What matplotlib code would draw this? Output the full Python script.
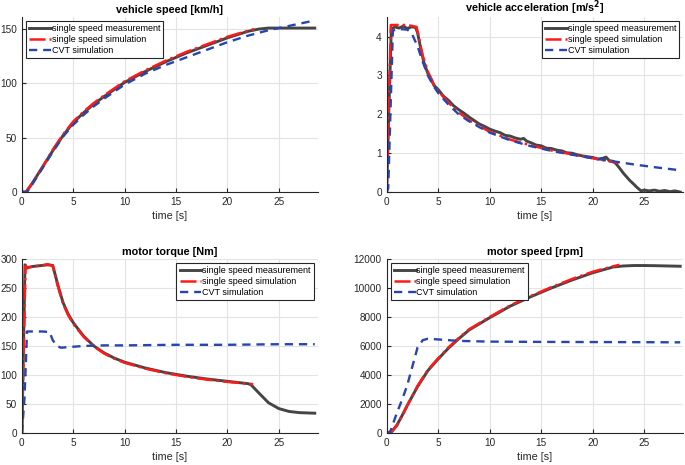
import matplotlib
matplotlib.use('Agg')
import matplotlib.pyplot as plt

plt.rcParams['font.family'] = ['Liberation Sans', 'DejaVu Sans']

# ---- vehicle speed [km/h]
vs_meas_t = [0, 0.4, 1, 2, 3, 4, 5, 6, 7, 8, 10, 12, 14, 16, 18, 20, 22, 23, 24, 25, 26, 28.5]
vs_meas = [0, 0, 8, 23, 38, 52, 64, 73, 81, 88, 101, 111, 120, 128, 135, 142, 148, 150, 151, 151, 151, 151]
vs_sim_t = [0, 0.4, 1, 2, 3, 4, 5, 6, 7, 8, 10, 12, 14, 16, 18, 20, 22, 22.6]
vs_sim = [0, 0, 8, 23, 39, 53, 65, 74, 82, 89, 102, 112, 121, 129, 136, 143, 148.5, 150]
vs_cvt_t = [0, 0.5, 1, 2, 3, 4, 5, 6, 7, 8, 10, 12, 14, 16, 18, 20, 22, 24, 26, 28.5]
vs_cvt = [0, 0, 7, 22, 37, 51, 62, 71, 79, 86, 99, 109, 117, 124, 131, 138, 144, 149, 153, 158]

# ---- vehicle acceleration [m/s^2]
acc_meas_t = [0, 0.2, 0.45, 0.8, 1.2, 1.6, 2.0, 2.4, 2.8, 3.0, 3.3, 3.6, 4.0, 4.3, 4.6, 5.0,
              5.5, 6.0, 6.5, 7.0, 7.5, 8.0, 8.5, 9.0, 9.5, 10.0, 10.5, 11.0, 11.5, 12.0, 12.5,
              13.0, 13.3, 13.6, 14.0, 14.5, 15.0, 15.5, 16.0, 16.5, 17.0, 17.5, 18.0, 18.5,
              19.0, 19.5, 20.0, 20.5, 21.0, 21.3, 21.6, 22.0, 22.3, 22.6, 23.0, 23.3, 23.6,
              24.0, 24.3, 24.7, 25.0, 25.5, 26.0, 26.5, 27.0, 27.5, 28.0, 28.5]
acc_meas = [0, 2.0, 4.2, 4.25, 4.22, 4.27, 4.21, 4.25, 4.24, 4.1, 3.7, 3.35, 3.05, 2.92, 2.74, 2.64,
            2.47, 2.36, 2.22, 2.12, 2.03, 1.93, 1.84, 1.75, 1.69, 1.62, 1.57, 1.53, 1.46, 1.44, 1.39,
            1.36, 1.38, 1.31, 1.27, 1.21, 1.19, 1.13, 1.12, 1.08, 1.06, 1.01, 1.0, 0.96,
            0.93, 0.91, 0.89, 0.85, 0.87, 0.9, 0.81, 0.79, 0.72, 0.62, 0.48, 0.39, 0.3,
            0.2, 0.12, 0.03, 0.05, 0.03, 0.05, 0.02, 0.04, 0.01, 0.03, 0.0]
acc_sim_t = [0, 0.4, 1, 2, 2.9, 3.5, 4, 4.5, 5, 6, 7, 8, 9, 10, 12, 14, 16, 18, 20, 22, 22.5]
acc_sim = [0, 4.3, 4.3, 4.3, 4.25, 3.5, 3.1, 2.8, 2.6, 2.3, 2.05, 1.85, 1.7, 1.55, 1.35, 1.2,
           1.07, 0.97, 0.87, 0.77, 0.75]
acc_cvt_t = [0, 0.15, 0.6, 1, 2, 2.4, 3, 3.5, 4, 4.5, 5, 6, 7, 8, 9, 10, 12, 14, 16, 18, 20,
             22, 24, 26, 28.5]
acc_cvt = [0, 0.1, 4.15, 4.2, 4.18, 4.1, 3.75, 3.35, 3.0, 2.75, 2.55, 2.25, 2.0, 1.82, 1.67,
           1.53, 1.33, 1.18, 1.06, 0.96, 0.87, 0.79, 0.71, 0.64, 0.56]

# ---- motor torque [Nm]
tq_meas_t = [0, 0.3, 0.5, 1, 1.5, 2, 2.5, 3.0, 3.5, 4, 4.5, 5, 6, 7, 8, 9, 10, 12, 14, 16, 18,
             20, 22, 22.3, 23, 24, 25, 26, 27, 28.5]
tq_meas = [0, 290, 285, 287, 288, 289, 290, 289, 255, 225, 205, 190, 167, 150, 138, 129, 122,
           112, 104, 98, 93, 89, 85, 83, 70, 52, 42, 37, 35, 34]
tq_sim_t = [0, 0.35, 0.5, 1, 1.5, 2, 2.5, 3.0, 3.5, 4, 4.5, 5, 6, 7, 8, 9, 10, 12, 14, 16, 18,
            20, 22, 22.5]
tq_sim = [0, 288, 284, 287, 288, 289, 291, 288, 253, 223, 203, 188, 166, 149, 137, 128, 121,
          111, 103, 97, 92, 88, 85, 84]
tq_cvt_t = [0, 0.25, 0.5, 1, 2, 2.7, 3.0, 3.4, 3.8, 4.5, 6, 8, 10, 15, 20, 25, 28.5]
tq_cvt = [0, 60, 175, 175, 175, 174, 160, 150, 147, 148, 150, 151, 151, 152, 152, 153, 153]

# ---- motor speed [rpm]
ms_meas_t = [0, 0.5, 1, 1.5, 2, 3, 4, 5, 6, 7, 8, 10, 12, 14, 16, 18, 20, 22, 23, 24, 25, 26, 28.5]
ms_meas = [0, 100, 550, 1200, 1900, 3200, 4300, 5100, 5850, 6500, 7100, 7950, 8750, 9400,
           10000, 10550, 11050, 11450, 11520, 11550, 11550, 11540, 11500]
ms_sim_t = [0, 0.5, 1, 1.5, 2, 3, 4, 5, 6, 7, 8, 10, 12, 14, 16, 18, 20, 22, 22.6]
ms_sim = [0, 80, 520, 1180, 1900, 3250, 4350, 5150, 5900, 6550, 7150, 8000, 8800, 9450,
          10060, 10620, 11120, 11500, 11600]
ms_cvt_t = [0, 0.3, 1, 1.5, 2, 2.5, 3, 3.5, 4, 5, 7, 10, 15, 20, 25, 28.5]
ms_cvt = [0, 0, 1400, 2300, 3300, 4600, 5900, 6400, 6500, 6450, 6350, 6300, 6280, 6270, 6260, 6250]

labels = ['single speed measurement', 'single speed simulation', 'CVT simulation']

fig = plt.figure(figsize=(6.85, 4.65), dpi=100)

pos = [[0.032, 0.587, 0.432, 0.376],
       [0.5645, 0.587, 0.433, 0.376],
       [0.032, 0.069, 0.432, 0.374],
       [0.5645, 0.069, 0.433, 0.374]]

panels = [
    (vs_meas_t, vs_meas, vs_sim_t, vs_sim, vs_cvt_t, vs_cvt,
     'vehicle speed [km/h]', (0, 161), [0, 50, 100, 150], 'upper left'),
    (acc_meas_t, acc_meas, acc_sim_t, acc_sim, acc_cvt_t, acc_cvt,
     r'vehicle acceleration [m/s$^\mathbf{2}$]', (0, 4.5), [0, 1, 2, 3, 4], 'upper right'),
    (tq_meas_t, tq_meas, tq_sim_t, tq_sim, tq_cvt_t, tq_cvt,
     'motor torque [Nm]', (0, 300), [0, 50, 100, 150, 200, 250, 300], 'upper right'),
    (ms_meas_t, ms_meas, ms_sim_t, ms_sim, ms_cvt_t, ms_cvt,
     'motor speed [rpm]', (0, 12000), [0, 2000, 4000, 6000, 8000, 10000, 12000], 'upper left'),
]

for p, (tm, ym, ts, ysim, tc, yc, title, ylim, yticks, loc) in zip(pos, panels):
    ax = fig.add_axes(p)
    ax.plot(tm, ym, '-', color='#454545', lw=2.1, label=labels[0])
    ax.plot(ts, ysim, '-.', color='#ff1a1a', lw=1.8, label=labels[1])
    ax.plot(tc, yc, '--', color='#2745b0', lw=1.7, label=labels[2], dashes=(3.5, 2.5))
    ax.set_xlim(0, 28.8)
    ax.set_ylim(*ylim)
    ax.set_xticks([0, 5, 10, 15, 20, 25])
    ax.set_yticks(yticks)
    ax.spines['top'].set_visible(False)
    ax.spines['right'].set_visible(False)
    ax.spines['left'].set_color('#262626')
    ax.spines['bottom'].set_color('#262626')
    ax.grid(True, color='#e3e3e3', lw=0.8)
    ax.set_axisbelow(True)
    ax.tick_params(direction='in', length=3, labelsize=7.2, colors='#262626', pad=3.5)
    ax.set_title(title, fontsize=7.8, fontweight='bold', pad=3)
    ax.set_xlabel('time [s]', fontsize=7.8, labelpad=3, color='#262626')
    leg = ax.legend(loc=loc, fontsize=6.5, frameon=True, fancybox=False, framealpha=1,
                    edgecolor='#262626', handlelength=2.4, handletextpad=0.1,
                    labelspacing=0.2, borderpad=0.35, borderaxespad=0.45)
    leg.get_frame().set_linewidth(0.8)

plt.savefig('out.png', dpi=100)
